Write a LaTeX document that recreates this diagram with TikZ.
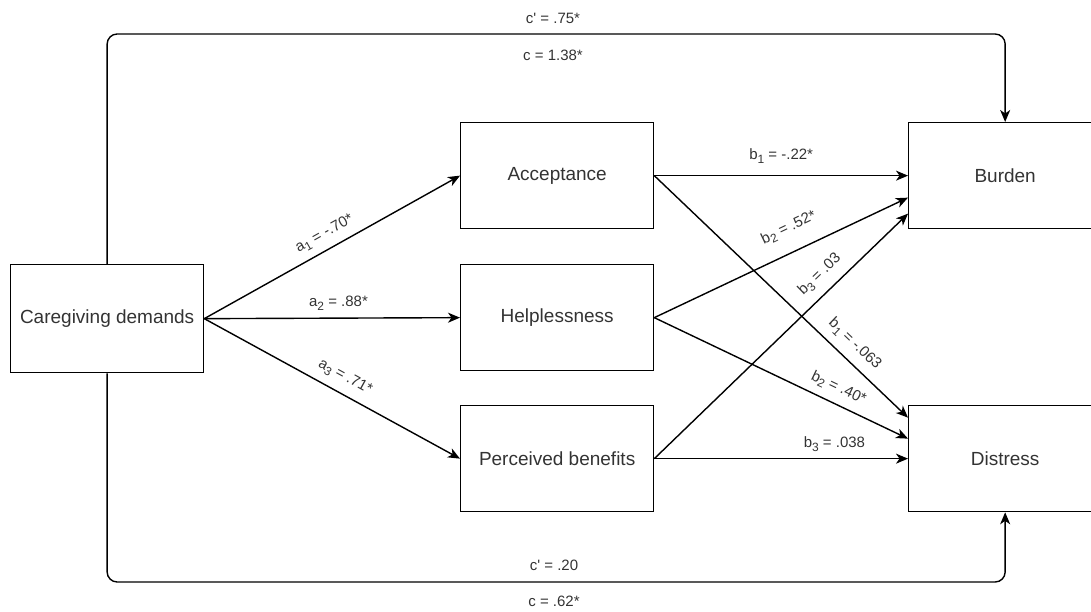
\documentclass[tikz,border=0pt]{standalone}
\usepackage{fontspec}
\setmainfont{Liberation Sans}
\usetikzlibrary{arrows.meta,calc}
\definecolor{txt}{HTML}{333333}
\newcommand{\sbs}[1]{\raisebox{-3.5pt}{\fontsize{12}{12}\selectfont #1}}
\begin{document}
\begin{tikzpicture}[x=1pt,y=-1pt,
  box/.style={draw=black, line width=1.3pt, minimum width=193pt, minimum height=106pt, inner sep=0pt, anchor=north west, font=\fontsize{19}{22}\selectfont, text=txt},
  conn/.style={draw=black, line width=1.4pt, -{Stealth[length=12pt,width=10pt,inset=3.5pt]}},
  lab/.style={font=\fontsize{15}{17}\selectfont, text=txt, inner sep=0pt, text height=11pt, text depth=3pt, sloped},
  clab/.style={font=\fontsize{15}{17}\selectfont, text=txt, inner sep=0pt, anchor=base}
]
\useasboundingbox (0,0) rectangle (1091,612);

\node[box, minimum height=108pt] (cd) at (10,264) {Caregiving demands};
\node[box] (acc) at (460,122) {Acceptance};
\node[box] (help) at (460,264) {Helplessness};
\node[box] (pb) at (460,405) {Perceived benefits};
\node[box] (bur) at (908,122) {Burden};
\node[box] (dis) at (908,405) {Distress};

\draw[conn] (cd.east) -- node[lab, above=8pt, pos=0.5] (la1) {a\sbs{1} = -.70*} (acc.west);
\draw[conn] (cd.east) -- node[lab, above=8pt, pos=0.525] (la2) {a\sbs{2} = .88*} (help.west);
\draw[conn] (cd.east) -- node[lab, above=9pt, pos=0.52] (la3) {a\sbs{3} = .71*} (pb.west);

\draw[conn] (acc.east) -- node[lab, above=12pt, pos=0.5] (lb1) {b\sbs{1} = -.22*} (bur.west);
\draw[conn] (acc.east) -- node[lab, above=9pt, pos=0.745] (lb1d) {b\sbs{1} = -.063} ($(dis.west)+(0,-41)$);
\draw[conn] (help.east) -- node[lab, above=16pt, pos=0.57] (lb2) {b\sbs{2} = .52*} ($(bur.west)+(0,22)$);
\draw[conn] (help.east) -- node[lab, above=8pt, pos=0.7] (lb2d) {b\sbs{2} = .40*} ($(dis.west)+(0,-20)$);
\draw[conn] (pb.east) -- node[lab, above=10pt, pos=0.7] (lb3) {b\sbs{3} = .03} ($(bur.west)+(0,38)$);
\draw[conn] (pb.east) -- node[lab, above=7pt, pos=0.71] (lb3d) {b\sbs{3} = .038} (dis.west);

\coordinate (ttop) at (0,34);
\coordinate (tbot) at (0,582);
\draw[conn, rounded corners=10pt] (cd.north) |- (ttop -| bur.north) -- (bur.north);
\draw[conn, rounded corners=10pt] (cd.south) |- (tbot -| dis.south) -- (dis.south);

\node[clab] (lc1) at (553,24) {c\textquotesingle{} = .75*};
\node[clab] (lc2) at (553,61) {c = 1.38*};
\node[clab] (lc3) at (554,570) {c\textquotesingle{} = .20};
\node[clab] (lc4) at (554,606) {c = .62*};
\end{tikzpicture}
\end{document}
